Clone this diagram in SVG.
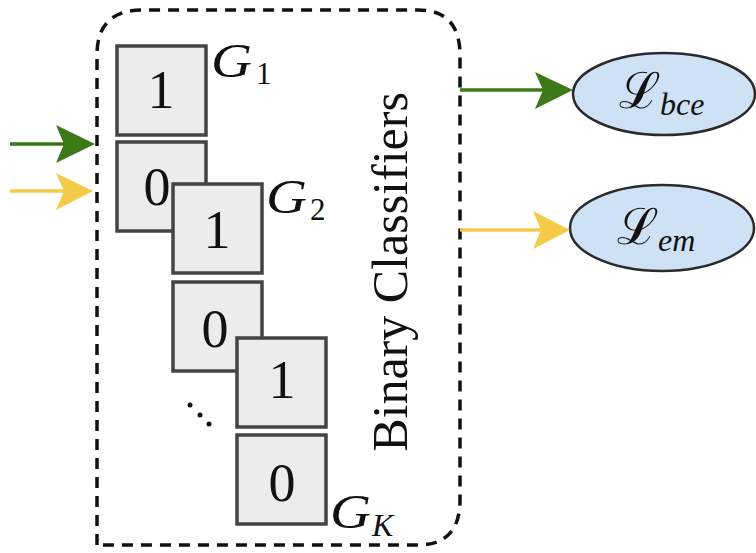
<svg xmlns="http://www.w3.org/2000/svg" width="756" height="553" viewBox="0 0 756 553">
  <defs>
    <style>
      .frame { fill: none; stroke: #111; stroke-width: 3.5; stroke-dasharray: 11 8; }
      .cell { fill: #ececec; stroke: #444; stroke-width: 3.5; }
      text { font-family: "Liberation Serif", "Times New Roman", "DejaVu Serif", serif; fill: #111; }
      .digit { font-size: 54px; text-anchor: middle; }
      .gname { font-style: italic; font-size: 48px; }
      .gsub { font-size: 31px; }
      .gsubi { font-style: italic; font-size: 32px; }
      .loss { fill: #cfe2f5; stroke: #2a2a2a; stroke-width: 2.5; }
      .script { font-family: "DejaVu Serif", serif; font-size: 50px; }
      .lsub { font-style: italic; font-size: 32px; }
      .green { stroke: #3c7a18; stroke-width: 3.5; fill: none; }
      .yellow { stroke: #f4cb48; stroke-width: 3.5; fill: none; }
      .title { font-size: 50px; }
    </style>
  </defs>

  <!-- dashed container of the binary classifiers -->
  <g id="container">
    <path class="frame" d="M97,545 L97,55 Q97,10 142,10 L418,10 Q460,10 460,55 L460,500 Q460,545 418,545 Z"/>
    <text class="title" transform="translate(407,272) rotate(-90)" text-anchor="middle">Binary Classifiers</text>
  </g>

  <!-- classifier G1 -->
  <g id="g1">
    <rect class="cell" x="117" y="46" width="89" height="89"/>
    <text class="digit" x="161" y="108">1</text>
    <rect class="cell" x="117" y="142" width="89" height="89"/>
    <text class="digit" x="157" y="205">0</text>
    <text class="gname" x="211" y="77" textLength="41" lengthAdjust="spacingAndGlyphs">G</text>
    <text class="gsub" x="256" y="84">1</text>
  </g>

  <!-- classifier G2 -->
  <g id="g2">
    <rect class="cell" x="173" y="184" width="89" height="89"/>
    <text class="digit" x="217" y="248">1</text>
    <rect class="cell" x="173" y="282" width="89" height="89"/>
    <text class="digit" x="215" y="347">0</text>
    <text class="gname" x="266" y="213" textLength="41" lengthAdjust="spacingAndGlyphs">G</text>
    <text class="gsub" x="310" y="220">2</text>
  </g>

  <!-- ellipsis between G2 and GK -->
  <g id="dots" fill="#111">
    <circle cx="190" cy="405" r="2.5"/>
    <circle cx="200" cy="415" r="2.5"/>
    <circle cx="209" cy="424" r="2.5"/>
  </g>

  <!-- classifier GK -->
  <g id="gk">
    <rect class="cell" x="237" y="338" width="89" height="89"/>
    <text class="digit" x="282" y="398">1</text>
    <rect class="cell" x="237" y="435" width="89" height="89"/>
    <text class="digit" x="282" y="501">0</text>
    <text class="gname" x="330" y="528" textLength="41" lengthAdjust="spacingAndGlyphs">G</text>
    <text class="gsubi" x="372" y="536">K</text>
  </g>

  <!-- loss nodes -->
  <g id="loss-bce">
    <ellipse class="loss" cx="664" cy="94" rx="91" ry="41"/>
    <text class="script" x="619" y="108">ℒ</text>
    <text class="lsub" x="660" y="115">bce</text>
  </g>
  <g id="loss-em">
    <ellipse class="loss" cx="662" cy="228" rx="92" ry="43"/>
    <text class="script" x="617" y="244">ℒ</text>
    <text class="lsub" x="658" y="251">em</text>
  </g>

  <!-- connectors -->
  <g id="connectors">
    <line class="green" x1="10" y1="144" x2="70" y2="144"/>
    <polygon fill="#3c7a18" points="56,125 95,144 56,163 64,144"/>
    <line class="yellow" x1="10" y1="191" x2="70" y2="191"/>
    <polygon fill="#f4cb48" points="56,173 93,191 56,210 64,191"/>
    <line class="green" x1="460" y1="90" x2="548" y2="90"/>
    <polygon fill="#3c7a18" points="535,72 573,90 535,109 543,90"/>
    <line class="yellow" x1="460" y1="230" x2="546" y2="230"/>
    <polygon fill="#f4cb48" points="533,211 570,230 533,249 541,230"/>
  </g>
</svg>
